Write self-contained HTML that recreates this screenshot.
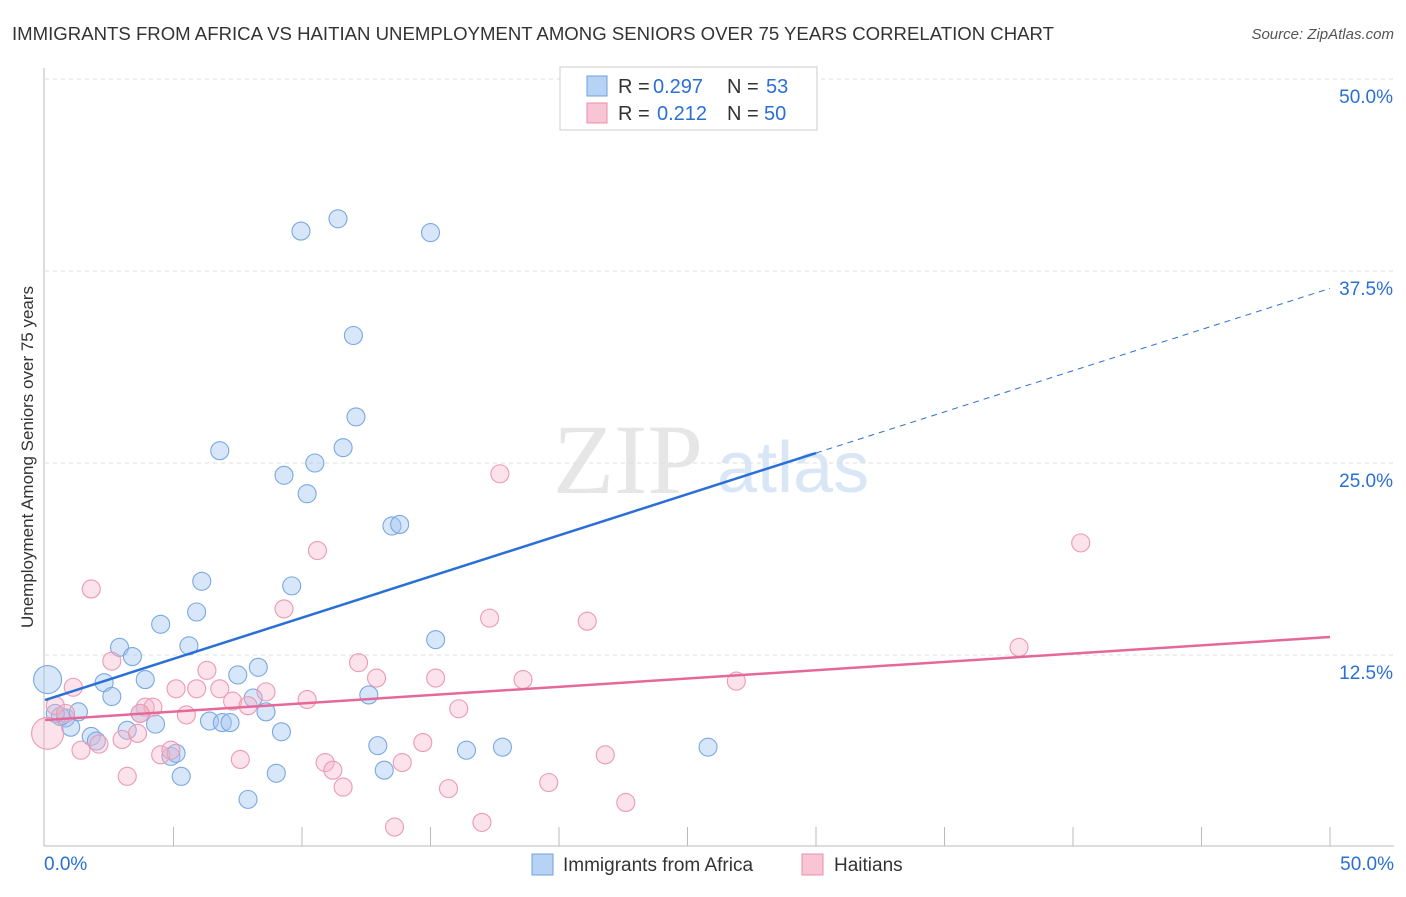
<!DOCTYPE html>
<html><head><meta charset="utf-8"><style>
body{margin:0;background:#fff;font-family:"Liberation Sans",sans-serif;}
svg text{font-family:"Liberation Sans",sans-serif;}
</style></head><body>
<svg id="c" width="1406" height="892" xmlns="http://www.w3.org/2000/svg">
<text x="12" y="40" font-size="18" fill="#333" textLength="1042" lengthAdjust="spacingAndGlyphs">IMMIGRANTS FROM AFRICA VS HAITIAN UNEMPLOYMENT AMONG SENIORS OVER 75 YEARS CORRELATION CHART</text>
<text x="1394" y="39" font-size="15" fill="#555" text-anchor="end" font-style="italic">Source: ZipAtlas.com</text>
<text x="553" y="493" font-size="100" fill="#e6e6e6" font-family="Liberation Serif" style="font-family:'Liberation Serif',serif">ZIP</text>
<text x="717" y="492" font-size="72" fill="#d8e6f6">atlas</text>
<text transform="translate(33,457) rotate(-90)" font-size="17" fill="#333" text-anchor="middle">Unemployment Among Seniors over 75 years</text>
<g id="grid"></g><g id="axes"></g><g id="pts"></g><g id="lines"></g>
<g>
<rect x="560" y="67" width="257" height="63" fill="#fff" stroke="#ccc"/>
<rect x="587" y="76" width="20" height="20" fill="#b6d2f5" stroke="#6fa0dc"/>
<rect x="587" y="103" width="20" height="20" fill="#f9c4d4" stroke="#e88fab"/>
<text x="618" y="93" font-size="20" fill="#333">R =</text>
<text x="653" y="93" font-size="20" fill="#2a6fd6">0.297</text>
<text x="727" y="93" font-size="20" fill="#333">N =</text>
<text x="766" y="93" font-size="20" fill="#2a6fd6">53</text>
<text x="618" y="120" font-size="20" fill="#333">R =</text>
<text x="657" y="120" font-size="20" fill="#2a6fd6">0.212</text>
<text x="727" y="120" font-size="20" fill="#333">N =</text>
<text x="764" y="120" font-size="20" fill="#2a6fd6">50</text>
</g>
<g>
<rect x="532" y="854" width="21" height="21" fill="#b6d2f5" stroke="#6fa0dc"/>
<text x="563" y="871" font-size="19" fill="#333">Immigrants from Africa</text>
<rect x="802" y="854" width="21" height="21" fill="#f9c4d4" stroke="#e88fab"/>
<text x="834" y="871" font-size="19" fill="#333">Haitians</text>
</g>
</svg>
<script>
const yTicks=[12.5,25,37.5,50];
const yTickLabels=["12.5%","25.0%","37.5%","50.0%"];
const xTickLabels=["0.0%","50.0%"];
const blueX=[0.1,0.8,1.0,1.3,1.8,2.0,2.3,2.6,2.9,3.2,3.4,3.7,3.9,4.3,4.5,4.9,5.1,5.3,5.6,5.9,6.1,6.4,6.8,6.9,7.2,7.5,7.9,8.1,8.3,8.6,9.0,9.2,9.3,9.6,9.96,10.2,10.5,11.4,11.6,12.0,12.1,12.6,12.95,13.2,13.5,13.8,15.0,15.2,16.4,17.8,25.8,0.6,0.4];
const blueY=[10.9,8.4,7.8,8.8,7.2,6.9,10.7,9.8,13.0,7.6,12.4,8.7,10.9,8.0,14.5,5.9,6.1,4.6,13.1,15.3,17.3,8.2,25.8,8.1,8.1,11.2,3.1,9.7,11.7,8.8,4.8,7.5,24.2,17.0,40.1,23.0,25.0,40.9,26.0,33.3,28.0,9.9,6.6,5.0,20.9,21.0,40.0,13.5,6.3,6.5,6.5,8.5,8.7];
const pinkX=[0.1,0.4,0.8,1.1,1.4,1.8,2.1,2.6,3.0,3.2,3.6,3.9,4.2,4.5,4.9,5.1,5.5,5.9,6.3,6.8,7.3,7.6,7.9,8.6,9.3,10.2,10.6,10.9,11.2,11.6,12.2,12.9,13.6,13.9,14.7,15.2,15.7,16.1,17.0,17.3,17.7,18.6,19.6,21.1,21.8,22.6,26.9,37.9,40.3,3.7];
const pinkY=[7.4,9.2,8.7,10.4,6.3,16.8,6.7,12.1,7.0,4.6,7.4,9.1,9.1,6.0,6.3,10.3,8.6,10.3,11.5,10.3,9.5,5.7,9.2,10.1,15.5,9.6,19.3,5.5,5.0,3.9,12.0,11.0,1.3,5.5,6.8,11.0,3.8,9.0,1.6,14.9,24.3,10.9,4.2,14.7,6.0,2.9,10.8,13.0,19.8,8.7];
const blueLine=[9.57,25.65,36.5];
const pinkLine=[8.27,13.67];
const NS="http://www.w3.org/2000/svg";
const X=v=>45+v*25.7, Y=v=>847-v*15.36;
function mk(t,a,p){const e=document.createElementNS(NS,t);for(const k in a)e.setAttribute(k,a[k]);document.getElementById(p).appendChild(e);return e;}
yTicks.forEach((t,i)=>{
 const l=mk('line',{x1:45,x2:1394,y1:Y(t),y2:Y(t),stroke:'#ddd','stroke-dasharray':'4,4'},'grid');
 
 
 const tx=mk('text',{x:1393,y:Y(t)+24,'font-size':19,fill:'#2a6fd6','text-anchor':'end'},'grid');tx.textContent=yTickLabels[i];
 
 
});
let a=mk('line',{x1:44,x2:44,y1:68,y2:846,stroke:'#bbb'},'axes');


a=mk('line',{x1:44,x2:1394,y1:846,y2:846,stroke:'#bbb'},'axes');


for(let i=1;i<=10;i++){const t=mk('line',{x1:X(i*5),x2:X(i*5),y1:827,y2:846,stroke:'#bbb'},'axes');
 
 }
let t0=mk('text',{x:44,y:870,'font-size':19,fill:'#2a6fd6'},'axes');t0.textContent=xTickLabels[0];


t0=mk('text',{x:1394,y:870,'font-size':19,fill:'#2a6fd6','text-anchor':'end'},'axes');t0.textContent=xTickLabels[1];


blueX.forEach((x,i)=>{const c=mk('circle',{cx:X(x),cy:Y(blueY[i]),r:i==0?14:9,fill:'rgba(160,196,240,0.42)',stroke:'#7aa8e0','stroke-width':1.1},'pts');
 
 });
pinkX.forEach((x,i)=>{const c=mk('circle',{cx:X(x),cy:Y(pinkY[i]),r:i==0?16:9,fill:'rgba(246,178,200,0.38)',stroke:'#eb9ab4','stroke-width':1.1},'pts');
 
 });
let L=mk('line',{x1:X(0),y1:Y(blueLine[0]),x2:X(30),y2:Y(blueLine[1]),stroke:'#2a6fd6','stroke-width':2.5},'lines');


L=mk('line',{x1:X(30),y1:Y(blueLine[1]),x2:X(50),y2:Y(blueLine[1]+(blueLine[1]-blueLine[0])*20/30),stroke:'#2a6fd6','stroke-width':1,'stroke-dasharray':'6,5'},'lines');


L=mk('line',{x1:X(0),y1:Y(pinkLine[0]),x2:X(50),y2:Y(pinkLine[1]),stroke:'#e5689a','stroke-width':2.5},'lines');


</script>
</body></html>
